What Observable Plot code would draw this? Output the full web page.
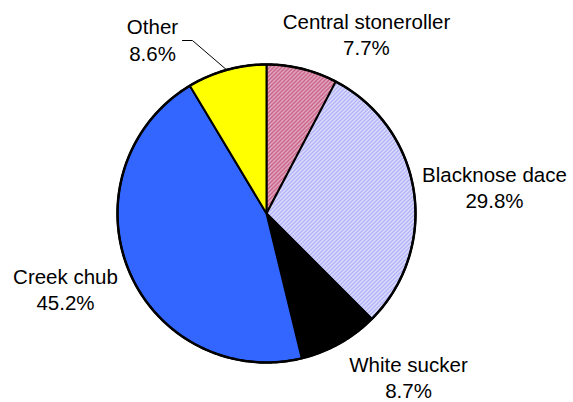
<!DOCTYPE html>
<html><head><meta charset="utf-8">
<script src="https://cdn.jsdelivr.net/npm/d3@7"></script>
<script src="https://cdn.jsdelivr.net/npm/@observablehq/plot@0.6"></script>
<style>body{margin:0;background:#fff}</style>
</head><body><div id="chart"></div>
<script>
// ---- data ----
const species = ["Central stoneroller", "Blacknose dace", "White sucker", "Creek chub", "Other"];
const percents = [7.7, 29.8, 8.7, 45.2, 8.6];
const pctLabels = ["7.7%", "29.8%", "8.7%", "45.2%", "8.6%"];

// ---- styles / layout (not data) ----
const fills = ["url(#hatchPink)", "url(#hatchLavender)", "#000000", "#3366ff", "#ffff00"];
// label block centres, in pie-radius units (pie centre = 0,0)
const labelPos = [[0.671, 1.204], [1.530, 0.179], [0.953, -1.098], [-1.349, -0.506], [-0.765, 1.170]];
// leader line elbow/start for "Other", in pie-radius units
const leaderStart = [-0.564, 1.161], leaderElbow = [-0.497, 1.161];

// ---- geometry from data through scales ----
const total = d3.sum(percents);
let cum = 0;
const slices = percents.map((p, i) => {
  const a0 = cum / total * 2 * Math.PI;
  cum += p;
  const a1 = cum / total * 2 * Math.PI;
  const n = Math.max(2, Math.ceil((a1 - a0) * 180 / Math.PI));
  const pts = [{x: 0, y: 0}];
  for (let k = 0; k <= n; k++) {
    const a = a0 + (a1 - a0) * k / n;
    pts.push({x: Math.sin(a), y: Math.cos(a)});
  }
  pts.push({x: 0, y: 0});
  return {pts, fill: fills[i], mid: (a0 + a1) / 2};
});

const labels = species.map((s, i) => ({x: labelPos[i][0], y: labelPos[i][1], text: s + "\n" + pctLabels[i]}));
const otherMid = slices[4].mid;
const leader = [
  {x: leaderStart[0], y: leaderStart[1]},
  {x: leaderElbow[0], y: leaderElbow[1]},
  {x: Math.sin(otherMid), y: Math.cos(otherMid)}
];

const plot = Plot.plot({
  width: 573,
  height: 402,
  margin: 0,
  style: {fontFamily: "'Liberation Sans', Arial, sans-serif", background: "#fff", color: "#000"},
  x: {axis: null, domain: [-1, 1], range: [117, 415]},
  y: {axis: null, domain: [-1, 1], range: [362, 64]},
  marks: [
    ...slices.map(s => Plot.line(s.pts, {x: "x", y: "y", fill: s.fill, stroke: "#000", strokeWidth: 2, strokeLinejoin: "round"})),
    Plot.line(slices.flatMap(s => s.pts.slice(1, -1)), {x: "x", y: "y", stroke: "#000", strokeWidth: 2.5}),
    Plot.line(leader, {x: "x", y: "y", stroke: "#000", strokeWidth: 1}),
    Plot.text(labels, {x: "x", y: "y", text: "text", fontSize: 20.5, lineHeight: 1.27, fill: "#000", textAnchor: "middle"})
  ]
});

// hatch pattern definitions
const defs = d3.select(plot).insert("defs", ":first-child");
const pk = defs.append("pattern").attr("id", "hatchPink").attr("patternUnits", "userSpaceOnUse").attr("width", 4).attr("height", 4);
pk.append("rect").attr("width", 4).attr("height", 4).attr("fill", "#f2d6e1");
pk.append("path").attr("d", "M-1,1 l2,-2 M0,4 l4,-4 M3,5 l2,-2").attr("stroke", "#c24f7a").attr("stroke-width", 1.6);
const lv = defs.append("pattern").attr("id", "hatchLavender").attr("patternUnits", "userSpaceOnUse").attr("width", 4).attr("height", 4);
lv.append("rect").attr("width", 4).attr("height", 4).attr("fill", "#f2f2ff");
lv.append("path").attr("d", "M-1,1 l2,-2 M0,4 l4,-4 M3,5 l2,-2").attr("stroke", "#a0a0f5").attr("stroke-width", 1.5);

document.getElementById("chart").appendChild(plot);
</script>
</body></html>
